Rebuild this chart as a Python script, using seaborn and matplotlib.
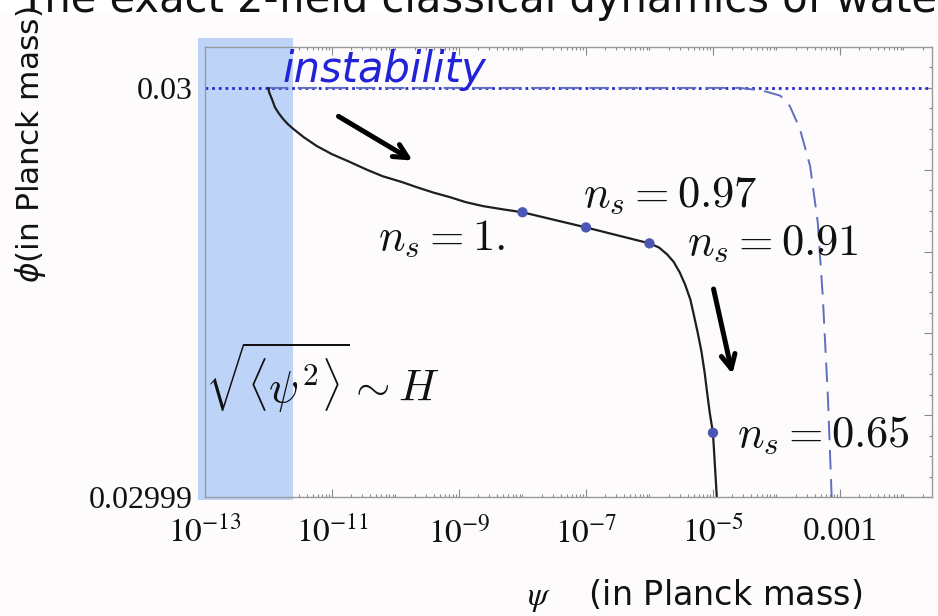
import numpy as np
import matplotlib
matplotlib.use("Agg")
import matplotlib.pyplot as plt
import matplotlib.ticker as mticker
from matplotlib.patches import Rectangle
import seaborn as sns

# ---------------- data ----------------
traj_psi = [1.0e-12, 1.02e-12, 1.15e-12, 1.26e-12, 1.45e-12, 1.70e-12, 2.0e-12,
            2.45e-12, 3.55e-12, 5.75e-12, 1.0e-11, 1.91e-11, 3.55e-11, 6.3e-11,
            1.26e-10, 2.19e-10, 3.98e-10, 7.2e-10, 1.26e-9, 2.4e-9, 5.0e-9,
            1.0e-8, 1.0e-7, 1.0e-6, 1.41e-6, 1.9e-6, 2.4e-6, 3.0e-6, 3.63e-6,
            4.4e-6, 5.0e-6, 5.75e-6, 6.6e-6, 7.4e-6, 8.1e-6, 8.9e-6, 1.0e-5, 1.15e-5]
traj_phi = [0.03, 0.0299999, 0.0299997, 0.02999953, 0.02999938, 0.02999924,
            0.02999912, 0.029999, 0.0299988, 0.02999858, 0.02999838, 0.02999819,
            0.029998, 0.02999784, 0.0299977, 0.02999757, 0.02999744, 0.02999733,
            0.02999721, 0.02999711, 0.02999703, 0.02999696, 0.02999659, 0.0299962,
            0.0299961, 0.02999593, 0.02999575, 0.02999549, 0.0299952, 0.02999483,
            0.02999445, 0.02999402, 0.02999355, 0.02999304, 0.02999255,
            0.02999206, 0.02999157, 0.02999]

ref_psi = [1.0e-12, 2.69e-5, 6.17e-5, 1.15e-4, 1.62e-4, 2.34e-4, 3.39e-4,
           4.47e-4, 5.37e-4, 6.46e-4, 7.41e-4]
ref_phi = [0.03, 0.03, 0.02999993, 0.02999981, 0.02999956, 0.029999,
           0.02999809, 0.02999672, 0.0299949, 0.02999245, 0.02999]

mark_psi = [1e-8, 1e-7, 1e-6, 1e-5]
mark_phi = [0.02999696, 0.02999659, 0.0299962, 0.02999157]
mark_ns = ["1.", "0.97", "0.91", "0.65"]

instab_phi = 0.03

xtick_vals = [1e-13, 1e-11, 1e-9, 1e-7, 1e-5, 1e-3]
xtick_labels = [r"$10^{-13}$", r"$10^{-11}$", r"$10^{-9}$", r"$10^{-7}$",
                r"$10^{-5}$", "0.001"]
ytick_vals = [0.02999, 0.029992, 0.029994, 0.029996, 0.029998, 0.03]
ytick_labels = ["0.02999", "", "", "", "", "0.03"]

# ---------------- style ----------------
sns.set_theme(style="ticks")
plt.rcParams["font.family"] = ["DejaVu Sans"]
plt.rcParams["mathtext.fontset"] = "stix"

W, H = 938, 616
fig = plt.figure(figsize=(W / 100, H / 100), dpi=100, facecolor="#fdfbfc")
# white strip at the very top (title area)
fig.patches.append(Rectangle((0, 1 - 14 / H), 1, 14 / H, transform=fig.transFigure,
                             facecolor="white", edgecolor="none", zorder=-5))
ax = fig.add_axes([205 / W, 1 - 497 / H, 727 / W, 450 / H])
ax.set_facecolor("none")

# shaded band (psi ~ H)
ax.add_patch(Rectangle((-0.0096, -0.0067), 0.1307, 1.0267, transform=ax.transAxes,
                       facecolor="#bdd4f8", edgecolor="none", zorder=1, clip_on=False))

# instability line
ax.axhline(instab_phi, color="#2a2ad2", ls=(0, (1, 1.4)), lw=2.0, zorder=2)

# curves
sns.lineplot(x=ref_psi, y=ref_phi, sort=False, estimator=None, ax=ax,
             color="#5f6fc0", lw=1.4, zorder=2)
ax.lines[-1].set_dashes((10, 5))
sns.lineplot(x=traj_psi, y=traj_phi, sort=False, estimator=None, ax=ax,
             color="#1e1e1e", lw=1.6, zorder=3)
sns.scatterplot(x=mark_psi, y=mark_phi, ax=ax, color="#4b56b5", s=55,
                edgecolor="none", zorder=4)

ax.set_xscale("log")
ax.set_xlim(1e-13, 10 ** -1.55)
ax.set_ylim(0.02999, 0.030001)

ax.xaxis.set_major_locator(mticker.FixedLocator(xtick_vals))
ax.xaxis.set_major_formatter(mticker.FixedFormatter(xtick_labels))
ax.xaxis.set_minor_locator(mticker.LogLocator(base=10, subs=np.arange(1, 10), numticks=200))
ax.xaxis.set_minor_formatter(mticker.NullFormatter())
ax.yaxis.set_major_locator(mticker.FixedLocator(ytick_vals))
ax.yaxis.set_major_formatter(mticker.FixedFormatter(ytick_labels))
ax.yaxis.set_minor_locator(mticker.MultipleLocator(5e-7))

ax.tick_params(which="both", direction="in", top=True, right=True, color="#8a8a8a",
               width=0.8, labelsize=23, labelfontfamily="Liberation Serif",
               labelcolor="#111111")
ax.tick_params(which="major", length=6)
ax.tick_params(which="minor", length=2.5)
ax.tick_params(axis="x", pad=14, labelsize=24)
ax.tick_params(axis="y", pad=9)
for sp in ax.spines.values():
    sp.set_color("#9a9a9a")
    sp.set_linewidth(1.0)
    sp.set_zorder(5)

# n_s labels
offsets = [(-144, -37), (-3, 21), (38, -11), (24, -14)]
for px, py, ns, off in zip(mark_psi, mark_phi, mark_ns, offsets):
    ax.annotate(r"$n_s = %s$" % ns, xy=(px, py), xytext=off, textcoords="offset pixels",
                fontsize=32, math_fontfamily="cm", ha="left", va="baseline",
                color="#111111", zorder=6)

ax.text(0.0, 0.209, r"$\sqrt{\langle\psi^2\rangle}\sim H$", transform=ax.transAxes,
        fontsize=32, math_fontfamily="cm", ha="left", va="baseline", color="#111111",
        zorder=6)

ax.text(0.106, 0.922, "instability", transform=ax.transAxes, fontsize=30,
        style="italic", color="#2222d8", ha="left", va="baseline", zorder=6)

# arrows
arrow_kw = dict(arrowstyle="->,head_length=0.5,head_width=0.25", lw=3.6,
                color="black", mutation_scale=20)
ax.annotate("", xy=(2.03e-10, 0.02999819), xytext=(1.16e-11, 0.02999934),
            arrowprops=arrow_kw, zorder=6)
ax.annotate("", xy=(2.07e-5, 0.02999294), xytext=(1.0e-5, 0.02999515),
            arrowprops=arrow_kw, zorder=6)

# axis labels and (cut-off) title
fig.text(30 / W, 1 - 145 / H, r"$\phi$(in Planck mass)", rotation=90, fontsize=22.5,
         ha="center", va="center", math_fontfamily="dejavusans", color="#111111")
fig.text(527 / W, 1 - 605 / H, r"$\psi$    (in Planck mass)", fontsize=24,
         ha="left", va="baseline", color="#111111")
fig.text(19 / W, 1 - 12 / H, "The exact 2-field classical dynamics of waterfall",
         fontsize=30, ha="left", va="baseline", color="#111111")

fig.savefig("out.png", dpi=100, facecolor=fig.get_facecolor())
